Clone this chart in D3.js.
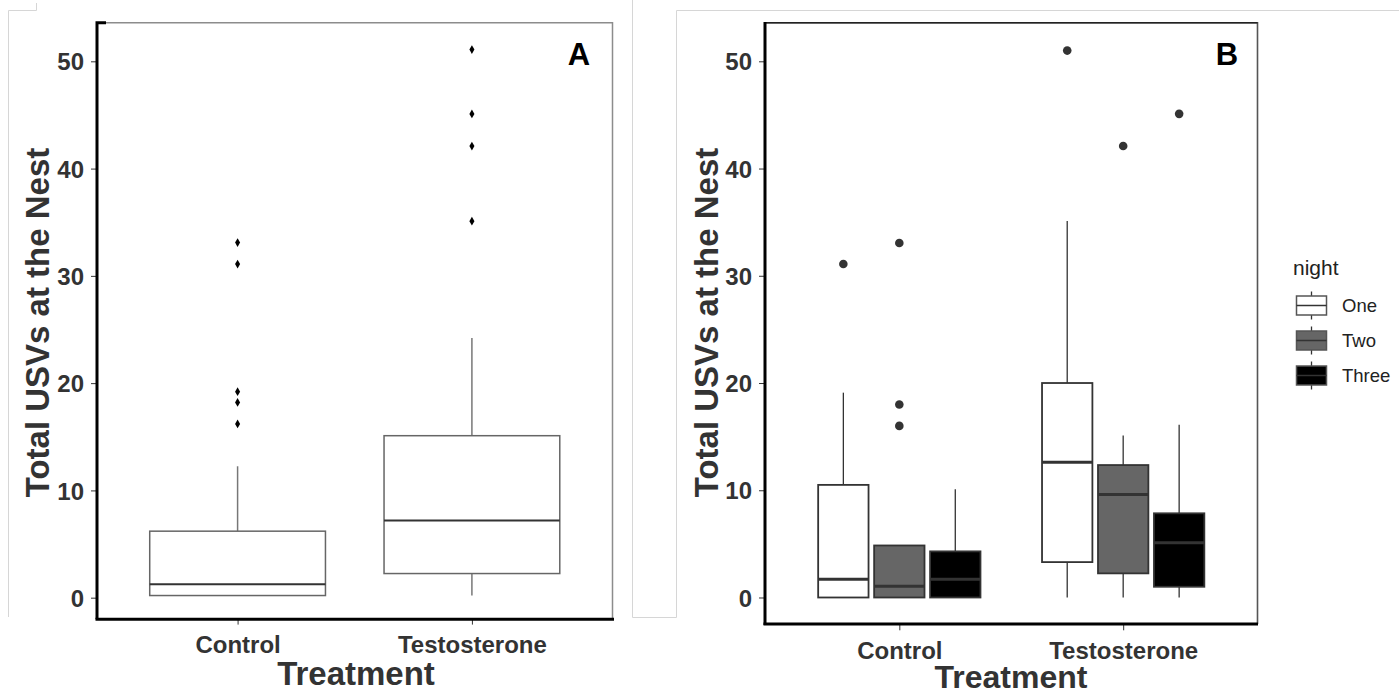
<!DOCTYPE html>
<html lang="en">
<head>
<meta charset="utf-8">
<title>Total USVs at the Nest</title>
<script src="https://d3js.org/d3.v7.min.js"></script>
<style>
  body { margin: 0; background: #fff; }
  svg { display: block; font-family: "Liberation Sans", Arial, sans-serif; }
  .tick text { fill: #333; font-weight: bold; font-size: 24px; }
  .tick line { stroke: #333; }
  .title { fill: #333; font-weight: bold; }
</style>
</head>
<body>
<svg id="chart" width="1399" height="694"></svg>
<script>
// categories
const treatments = ["Control", "Testosterone"];
const nights = ["One", "Two", "Three"];
const yTickValues = [0, 10, 20, 30, 40, 50];

// panel A: one box per treatment
const aLower = [0.2, 0.2];
const aQ1 = [0.2, 2.25];
const aMedian = [1.25, 7.2];
const aQ3 = [6.2, 15.1];
const aUpper = [12.25, 24.2];
const aOutliers = [[33.1, 31.1, 19.2, 18.2, 16.2], [51.1, 45.1, 42.1, 35.1]];

// panel B: rows = treatment, columns = night
const bLower = [[0, 0, 0], [0, 0, 0]];
const bQ1 = [[0, 0, 0], [3.3, 2.25, 1.0]];
const bMedian = [[1.7, 1.05, 1.7], [12.6, 9.6, 5.1]];
const bQ3 = [[10.5, 4.85, 4.3], [20.0, 12.35, 7.85]];
const bUpper = [[19.1, 4.85, 10.1], [35.1, 15.1, 16.1]];
const bOutliers = [[[31.1], [33.05, 18.0, 16.0], []], [[51.0], [42.1], [45.1]]];

const nightFill = d3.scaleOrdinal().domain(nights).range(["#ffffff", "#666666", "#000000"]);

const svg = d3.select("#chart");
svg.append("rect").attr("width", 1399).attr("height", 694).attr("fill", "#fff");

// faint frames of the two pasted images
const frame = svg.append("g").attr("stroke", "#d6d6d6").attr("fill", "none").attr("stroke-width", 1);
frame.append("path").attr("d", "M8.5,617V10.5H36.5V3");
frame.append("path").attr("d", "M632.5,0V617.5H676.5V10.5H1399");

function panel(x0, x1, yBottom, yTop, yDomain) {
  const x = d3.scalePoint().domain(treatments).range([x0, x1]).padding(0.6);
  const y = d3.scaleLinear().domain(yDomain).range([yBottom, yTop]);
  const g = svg.append("g");

  // y axis
  const ya = g.append("g").attr("transform", `translate(${x0},0)`)
    .call(d3.axisLeft(y).tickValues(yTickValues).tickSize(6).tickPadding(7));
  ya.select(".domain").remove();
  ya.selectAll("text").attr("dy", "0.36em");

  // x axis
  const xa = g.append("g").attr("transform", `translate(0,${yBottom})`)
    .call(d3.axisBottom(x).tickSize(6).tickPadding(6));
  xa.select(".domain").remove();
  xa.selectAll("text").attr("dy", "0.95em").attr("font-size", 25);

  return { x, y, g };
}

// ---------- Panel A ----------
const A = panel(97, 612.5, 618.6, 22.7, [-1.95, 53.6]);
{
  const { x, y, g } = A;
  const step = x.step();
  const bw = step * 0.75;
  // border
  g.append("path").attr("d", `M97,22.7H612.5V619`).attr("fill", "none").attr("stroke", "#8c8c8c").attr("stroke-width", 1.5);
  treatments.forEach((t, i) => {
    const cx = x(t);
    const bg = g.append("g");
    bg.append("line").attr("x1", cx).attr("x2", cx).attr("y1", y(aUpper[i])).attr("y2", y(aQ3[i]))
      .attr("stroke", "#777").attr("stroke-width", 1.5);
    bg.append("line").attr("x1", cx).attr("x2", cx).attr("y1", y(aQ1[i])).attr("y2", y(aLower[i]))
      .attr("stroke", "#777").attr("stroke-width", 1.5);
    bg.append("rect").attr("x", cx - bw / 2).attr("width", bw)
      .attr("y", y(aQ3[i])).attr("height", y(aQ1[i]) - y(aQ3[i]))
      .attr("fill", "#fff").attr("stroke", "#666").attr("stroke-width", 1.5);
    bg.append("line").attr("x1", cx - bw / 2).attr("x2", cx + bw / 2).attr("y1", y(aMedian[i])).attr("y2", y(aMedian[i]))
      .attr("stroke", "#333").attr("stroke-width", 2);
    bg.selectAll("path").data(aOutliers[i]).join("path")
      .attr("transform", d => `translate(${cx},${y(d)})`)
      .attr("d", d3.symbol(d3.symbolDiamond, 22)).attr("fill", "#000");
  });
  g.append("path").attr("d", `M97,619.3V22.7H106`).attr("fill", "none").attr("stroke", "#000").attr("stroke-width", 3);
  g.append("line").attr("x1", 95.5).attr("x2", 614).attr("y1", 619.3).attr("y2", 619.3).attr("stroke", "#000").attr("stroke-width", 3);
  g.append("text").attr("x", 579).attr("y", 65).attr("text-anchor", "middle")
    .attr("font-size", 31).attr("font-weight", "bold").attr("fill", "#000").text("A");
  g.append("text").attr("class", "title").attr("x", 356).attr("y", 685).attr("text-anchor", "middle")
    .attr("font-size", 33).text("Treatment");
  g.append("text").attr("class", "title").attr("transform", "translate(49,322.5) rotate(-90)")
    .attr("text-anchor", "middle").attr("font-size", 33).text("Total USVs at the Nest");
}

// ---------- Panel B ----------
const B = panel(765, 1257.5, 624.3, 22.7, [-2.5, 53.6]);
{
  const { x, y, g } = B;
  const step = x.step();
  const slot = step * 0.25;
  const bw = slot * 0.9;
  g.append("path").attr("d", `M765,22.7H1257.5V624`).attr("fill", "none").attr("stroke", "#555").attr("stroke-width", 1.6);
  g.append("line").attr("x1", 765).attr("x2", 1257.5).attr("y1", 22.7).attr("y2", 22.7).attr("stroke", "#222").attr("stroke-width", 1.6);
  treatments.forEach((t, i) => {
    nights.forEach((n, j) => {
      const cx = x(t) + (j - 1) * slot;
      const bg = g.append("g");
      bg.append("line").attr("x1", cx).attr("x2", cx).attr("y1", y(bUpper[i][j])).attr("y2", y(bQ3[i][j]))
        .attr("stroke", "#333").attr("stroke-width", 1.3);
      bg.append("line").attr("x1", cx).attr("x2", cx).attr("y1", y(bQ1[i][j])).attr("y2", y(bLower[i][j]))
        .attr("stroke", "#333").attr("stroke-width", 1.3);
      bg.append("rect").attr("x", cx - bw / 2).attr("width", bw)
        .attr("y", y(bQ3[i][j])).attr("height", y(bQ1[i][j]) - y(bQ3[i][j]))
        .attr("fill", nightFill(n)).attr("stroke", "#333").attr("stroke-width", 1.8);
      bg.append("line").attr("x1", cx - bw / 2).attr("x2", cx + bw / 2).attr("y1", y(bMedian[i][j])).attr("y2", y(bMedian[i][j]))
        .attr("stroke", "#333").attr("stroke-width", 3);
      bg.selectAll("circle").data(bOutliers[i][j]).join("circle")
        .attr("cx", cx).attr("cy", d => y(d)).attr("r", 4.3).attr("fill", "#333");
    });
  });
  g.append("line").attr("x1", 765).attr("x2", 765).attr("y1", 22).attr("y2", 625).attr("stroke", "#000").attr("stroke-width", 3);
  g.append("line").attr("x1", 763.5).attr("x2", 1258).attr("y1", 624).attr("y2", 624).attr("stroke", "#000").attr("stroke-width", 3);
  g.append("text").attr("x", 1227).attr("y", 65).attr("text-anchor", "middle")
    .attr("font-size", 31).attr("font-weight", "bold").attr("fill", "#000").text("B");
  g.append("text").attr("class", "title").attr("x", 1011).attr("y", 688).attr("text-anchor", "middle")
    .attr("font-size", 32).text("Treatment");
  g.append("text").attr("class", "title").attr("transform", "translate(718,322.5) rotate(-90)")
    .attr("text-anchor", "middle").attr("font-size", 33).text("Total USVs at the Nest");

  // legend
  const lg = svg.append("g").attr("transform", "translate(1296,0)");
  lg.append("text").attr("x", -3).attr("y", 275).attr("font-size", 21).attr("fill", "#222").text("night");
  const key = lg.selectAll("g.key").data(nights).join("g").attr("class", "key")
    .attr("transform", (d, k) => `translate(0,${305.5 + k * 35})`);
  key.append("line").attr("x1", 15.5).attr("x2", 15.5).attr("y1", -14).attr("y2", 14).attr("stroke", "#333").attr("stroke-width", 1.3);
  key.append("rect").attr("x", 0.5).attr("y", -9.5).attr("width", 30).attr("height", 19)
    .attr("fill", d => nightFill(d)).attr("stroke", "#555").attr("stroke-width", 1.5);
  key.append("line").attr("x1", 0.5).attr("x2", 30.5).attr("y1", 0).attr("y2", 0).attr("stroke", "#333").attr("stroke-width", 1.5);
  key.append("text").attr("x", 46).attr("dy", "0.35em").attr("font-size", 18.5).attr("fill", "#222").text(d => d);
}
</script>
</body>
</html>
